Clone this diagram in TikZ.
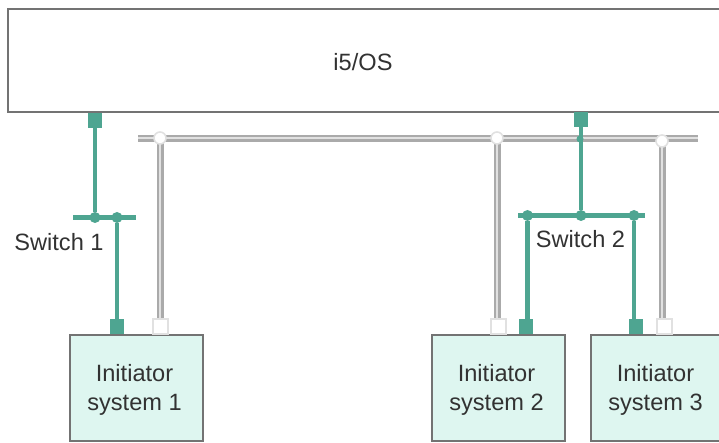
\documentclass[tikz,border=0pt]{standalone}
\usepackage{fontspec}
\setmainfont{Liberation Sans}
\definecolor{teal1}{RGB}{78,165,145}
\definecolor{teal2}{RGB}{222,246,240}
\definecolor{edge}{RGB}{115,115,115}
\definecolor{railc}{RGB}{170,170,170}
\definecolor{railin}{RGB}{225,225,225}
\definecolor{txt}{RGB}{50,50,50}
\tikzset{
  x=1pt,y=-1pt,
  sysbox/.style={draw=edge,line width=2pt,fill=teal2,minimum width=133pt,minimum height=106pt,anchor=north west,inner sep=0pt},
  systext/.style={inner sep=0pt,align=center,text=txt,font=\fontsize{23.6}{29}\selectfont},
  hostbox/.style={draw=edge,line width=2pt,fill=white,minimum width=720pt,minimum height=103pt,anchor=north west,inner sep=0pt},
  lab/.style={inner sep=0pt,text=txt,font=\fontsize{23.6}{26}\selectfont},
  tealwire/.style={draw=teal1,line width=4.4pt},
  grayrail/.style={draw=railc,line width=7pt},
  grayinner/.style={draw=railin,line width=2pt},
  tealport/.style={fill=teal1,inner sep=0pt,minimum width=14pt,minimum height=15.5pt},
  whiteport/.style={draw=railin,line width=2pt,fill=white,inner sep=0pt,minimum width=15pt,minimum height=15pt},
  tealdot/.style={circle,fill=teal1,inner sep=0pt,minimum size=11pt},
  whitedot/.style={circle,draw=railin,line width=1.6pt,fill=white,inner sep=0pt,minimum size=12pt}
}
\begin{document}
\begin{tikzpicture}
\useasboundingbox (0,0) rectangle (719,443);
\node[hostbox] (os) at (7,8.5) {};
\node[lab] (ostext) at (363,62) {i5/OS};
\node[sysbox] (s1) at (69,334) {};
\node[sysbox] (s2) at (431,334) {};
\node[sysbox] (s3) at (590,334) {};
\node[systext] (t1) at (134.5,390) {Initiator\\system 1};
\node[systext] (t2) at (496.5,390) {Initiator\\system 2};
\node[systext] (t3) at (655.5,390) {Initiator\\system 3};
% gray rail
\coordinate (railL) at (138,138.5);
\coordinate (railR) at (698,138.5);
\coordinate (g1) at (160,138);
\coordinate (g2) at (497,138);
\coordinate (g3) at (662,141);
\coordinate (w1) at (160,326);
\coordinate (w2) at (498,326);
\coordinate (w3) at (664,326);
\draw[grayrail] (railL) -- (railR);
\draw[grayinner] (railL) -- (railR);
\foreach \a/\b in {g1/w1,g2/w2,g3/w3}{
  \draw[grayrail] (\a) -- (\a|-\b);
  \draw[grayinner] (\a) -- (\a|-\b);
}
\node[whitedot] (gd1) at (g1) {};
\node[whitedot] (gd2) at (g2) {};
\node[whitedot] (gd3) at (g3) {};
\node[whiteport] (wp1) at (w1) {};
\node[whiteport] (wp2) at (w2) {};
\node[whiteport] (wp3) at (w3) {};
% teal switch 1
\node[tealport] (p1) at (95,120.5) {};
\node[tealdot] (d1) at (95,217.5) {};
\node[tealdot] (d2) at (117,217.5) {};
\coordinate (sw1L) at (73,217.5);
\coordinate (sw1R) at (136,217.5);
\node[tealport] (q1) at (117,326.5) {};
\draw[tealwire] (p1) -- (d1);
\draw[tealwire] (sw1L) -- (sw1R);
\draw[tealwire] (d2) -- (q1);
% teal switch 2
\node[tealport] (p2) at (581,119.5) {};
\node[tealdot] (d3) at (581,215.5) {};
\node[tealdot] (d4) at (527.5,215.5) {};
\node[tealdot] (d5) at (634,215.5) {};
\node[tealdot,minimum size=7pt] (d6) at (580,139) {};
\coordinate (sw2L) at (518,215.5);
\coordinate (sw2R) at (645,215.5);
\node[tealport] (q2) at (526,326.5) {};
\node[tealport] (q3) at (635.5,326.5) {};
\draw[tealwire] (p2) -- (d3);
\draw[tealwire] (sw2L) -- (sw2R);
\draw[tealwire] (d4) -- (d4|-q2);
\draw[tealwire] (d5) -- (d5|-q3);
\node[lab] (l1) at (59,242) {Switch 1};
\node[lab] (l2) at (580.5,239.5) {Switch 2};
\end{tikzpicture}
\end{document}
